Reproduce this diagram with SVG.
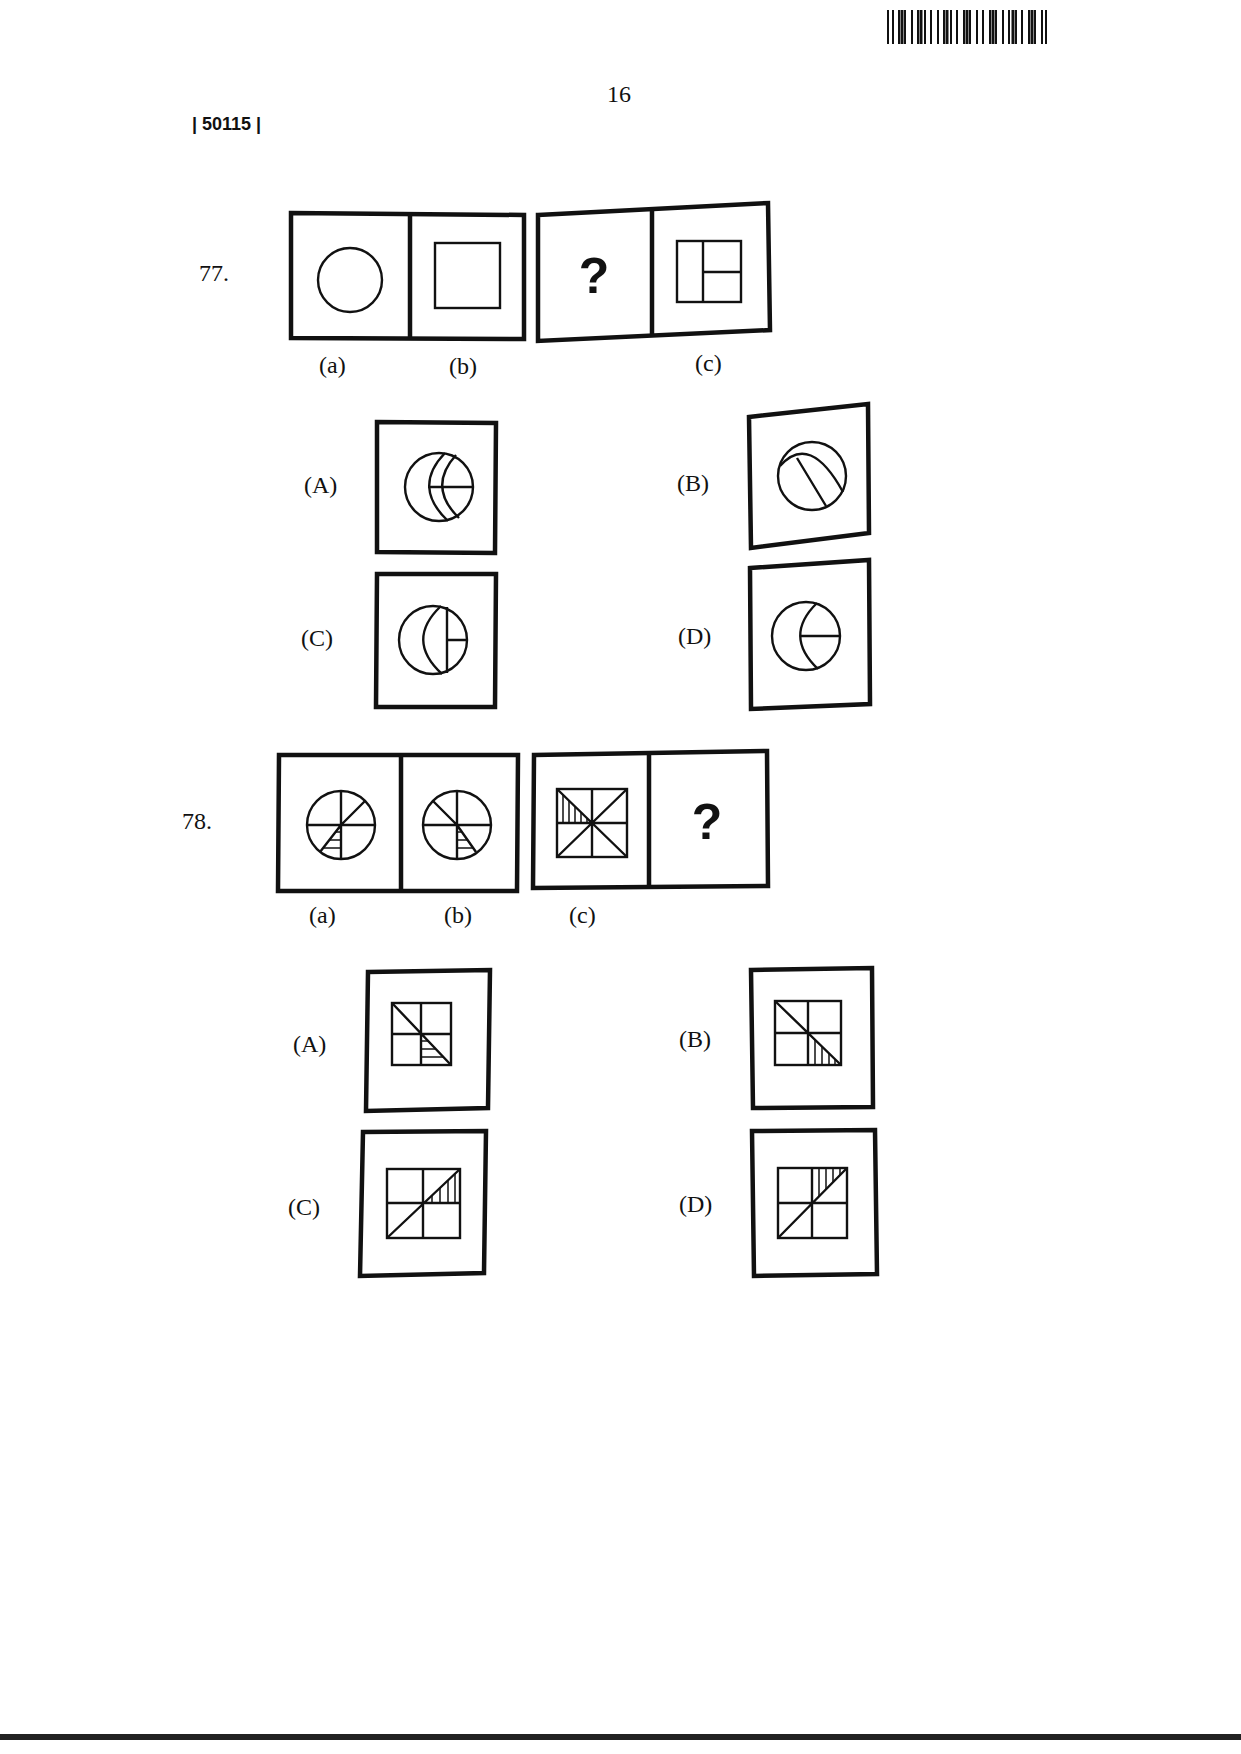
<svg xmlns="http://www.w3.org/2000/svg" width="1241" height="1754" viewBox="0 0 1241 1754">
<style>
.box{fill:none;stroke:#111;stroke-width:4.5}
.fig{fill:none;stroke:#111;stroke-width:2.4}
.h{stroke:#111;stroke-width:1.5}
.t{font-family:"Liberation Serif",serif;font-size:24px;fill:#111}
.q{font-family:"Liberation Sans",sans-serif;font-weight:bold;font-size:50px;fill:#111;text-anchor:middle}
.bc{stroke:#111}
</style>
<rect width="1241" height="1754" fill="#fff"/>
<g id="barcode" class="bc">
<path stroke-width="2" d="M888,10V44 M893,10V44 M899,10V44 M905,10V44 M912,10V44 M918,10V44 M925,10V44 M931,10V44 M938,10V44 M944,10V44 M951,10V44 M957,10V44 M964,10V44 M970,10V44 M977,10V44 M983,10V44 M990,10V44 M996,10V44 M1003,10V44 M1009,10V44 M1016,10V44 M1022,10V44 M1029,10V44 M1035,10V44 M1042,10V44 M1046,10V44"/>
<path stroke-width="3" d="M902,10V44 M921,10V44 M947,10V44 M967,10V44 M993,10V44 M1013,10V44 M1032,10V44"/>
</g>
<g id="header">
<text class="t" x="607" y="102">16</text>
<text x="192" y="130" font-family="Liberation Sans,sans-serif" font-weight="bold" font-size="18" fill="#111">| 50115 |</text>
</g>
<g id="q77">
<text class="t" x="199" y="281">77.</text>
<polygon class="box" points="291,213 524,215 524,339 291,338"/>
<line class="box" x1="410" y1="214" x2="410" y2="338"/>
<polygon class="box" points="538,215 768,203 770,330 538,341"/>
<line class="box" x1="652" y1="209" x2="652" y2="336"/>
<circle class="fig" cx="350" cy="280" r="32"/>
<rect class="fig" x="435" y="243" width="65" height="65"/>
<text class="q" x="594" y="293">?</text>
<rect class="fig" x="677" y="241" width="64" height="61"/>
<line class="fig" x1="703" y1="241" x2="703" y2="302"/>
<line class="fig" x1="703" y1="272" x2="741" y2="272"/>
<text class="t" x="319" y="373">(a)</text>
<text class="t" x="449" y="374">(b)</text>
<text class="t" x="695" y="371">(c)</text>
</g>
<g id="q77A">
<text class="t" x="304" y="493">(A)</text>
<polygon class="box" points="377,422 496,423 495,553 377,552"/>
<circle class="fig" cx="439" cy="487" r="34"/>
<path class="fig" d="M445,453 Q412,487 448,521 M456,455 Q427,487 459,518 M428,487 H473"/>
</g>
<g id="q77B">
<text class="t" x="677" y="491">(B)</text>
<polygon class="box" points="749,417 868,404 869,533 751,548"/>
<circle class="fig" cx="812" cy="476" r="34"/>
<path class="fig" d="M780,466 Q810,432 843,492 M797,458 L826,506"/>
</g>
<g id="q77C">
<text class="t" x="301" y="646">(C)</text>
<polygon class="box" points="377,574 496,574 495,707 376,707"/>
<circle class="fig" cx="433" cy="640" r="34"/>
<path class="fig" d="M441,606 Q405,640 442,674 M447,607 V673 M447,640 H467"/>
</g>
<g id="q77D">
<text class="t" x="678" y="644">(D)</text>
<polygon class="box" points="750,568 869,560 870,704 751,709"/>
<circle class="fig" cx="806" cy="636" r="34"/>
<path class="fig" d="M817,603 Q783,636 818,669 M800,636 H840"/>
</g>
<g id="q78">
<text class="t" x="182" y="829">78.</text>
<polygon class="box" points="279,755 518,755 517,891 278,891"/>
<line class="box" x1="401" y1="755" x2="401" y2="891"/>
<polygon class="box" points="534,755 767,751 768,886 533,888"/>
<line class="box" x1="649" y1="753" x2="649" y2="887"/>
<circle class="fig" cx="341" cy="825" r="34"/>
<path class="fig" d="M307,825 H375 M341,791 V859 M341,825 L365,801 M341,825 L320,852"/>
<g class="h"><line x1="336" y1="832" x2="341" y2="832"/><line x1="330" y1="840" x2="341" y2="840"/><line x1="324" y1="848" x2="341" y2="848"/></g>
<circle class="fig" cx="457" cy="825" r="34"/>
<path class="fig" d="M423,825 H491 M457,791 V859 M457,825 L433,801 M457,825 L476,852"/>
<g class="h"><line x1="457" y1="832" x2="462" y2="832"/><line x1="457" y1="840" x2="468" y2="840"/><line x1="457" y1="848" x2="474" y2="848"/></g>
<rect class="fig" x="557" y="789" width="70" height="68"/>
<path class="fig" d="M592,789 V857 M557,823 H627 M557,789 L627,857 M627,789 L557,857"/>
<g class="h"><line x1="563" y1="795" x2="563" y2="823"/><line x1="569" y1="801" x2="569" y2="823"/><line x1="575" y1="806" x2="575" y2="823"/><line x1="581" y1="812" x2="581" y2="823"/><line x1="587" y1="818" x2="587" y2="823"/></g>
<text class="q" x="707" y="839">?</text>
<text class="t" x="309" y="923">(a)</text>
<text class="t" x="444" y="923">(b)</text>
<text class="t" x="569" y="923">(c)</text>
</g>
<g id="q78A">
<text class="t" x="293" y="1052">(A)</text>
<polygon class="box" points="368,972 490,970 488,1108 366,1111"/>
<rect class="fig" x="392" y="1003" width="59" height="62"/>
<path class="fig" d="M421,1003 V1065 M392,1034 H451 M392,1003 L451,1065"/>
<g class="h"><line x1="421" y1="1041" x2="428" y2="1041"/><line x1="421" y1="1049" x2="436" y2="1049"/><line x1="421" y1="1057" x2="443" y2="1057"/></g>
</g>
<g id="q78B">
<text class="t" x="679" y="1047">(B)</text>
<polygon class="box" points="751,970 872,968 873,1107 753,1108"/>
<rect class="fig" x="775" y="1001" width="66" height="64"/>
<path class="fig" d="M808,1001 V1065 M775,1033 H841 M775,1001 L841,1065"/>
<g class="h"><line x1="815" y1="1040" x2="815" y2="1065"/><line x1="822" y1="1047" x2="822" y2="1065"/><line x1="829" y1="1053" x2="829" y2="1065"/><line x1="835" y1="1059" x2="835" y2="1065"/></g>
</g>
<g id="q78C">
<text class="t" x="288" y="1215">(C)</text>
<polygon class="box" points="363,1132 486,1131 484,1273 360,1276"/>
<rect class="fig" x="387" y="1169" width="73" height="69"/>
<path class="fig" d="M423,1169 V1238 M387,1203 H460 M387,1238 L460,1169"/>
<g class="h"><line x1="432" y1="1195" x2="432" y2="1203"/><line x1="440" y1="1188" x2="440" y2="1203"/><line x1="448" y1="1180" x2="448" y2="1203"/><line x1="455" y1="1173" x2="455" y2="1203"/></g>
</g>
<g id="q78D">
<text class="t" x="679" y="1212">(D)</text>
<polygon class="box" points="752,1131 875,1130 877,1274 754,1276"/>
<rect class="fig" x="778" y="1168" width="69" height="70"/>
<path class="fig" d="M812,1168 V1238 M778,1203 H847 M778,1238 L847,1168"/>
<g class="h"><line x1="819" y1="1168" x2="819" y2="1196"/><line x1="826" y1="1168" x2="826" y2="1189"/><line x1="833" y1="1168" x2="833" y2="1182"/><line x1="840" y1="1168" x2="840" y2="1175"/></g>
</g>
<rect x="0" y="1734" width="1241" height="6" fill="#222"/>
</svg>
